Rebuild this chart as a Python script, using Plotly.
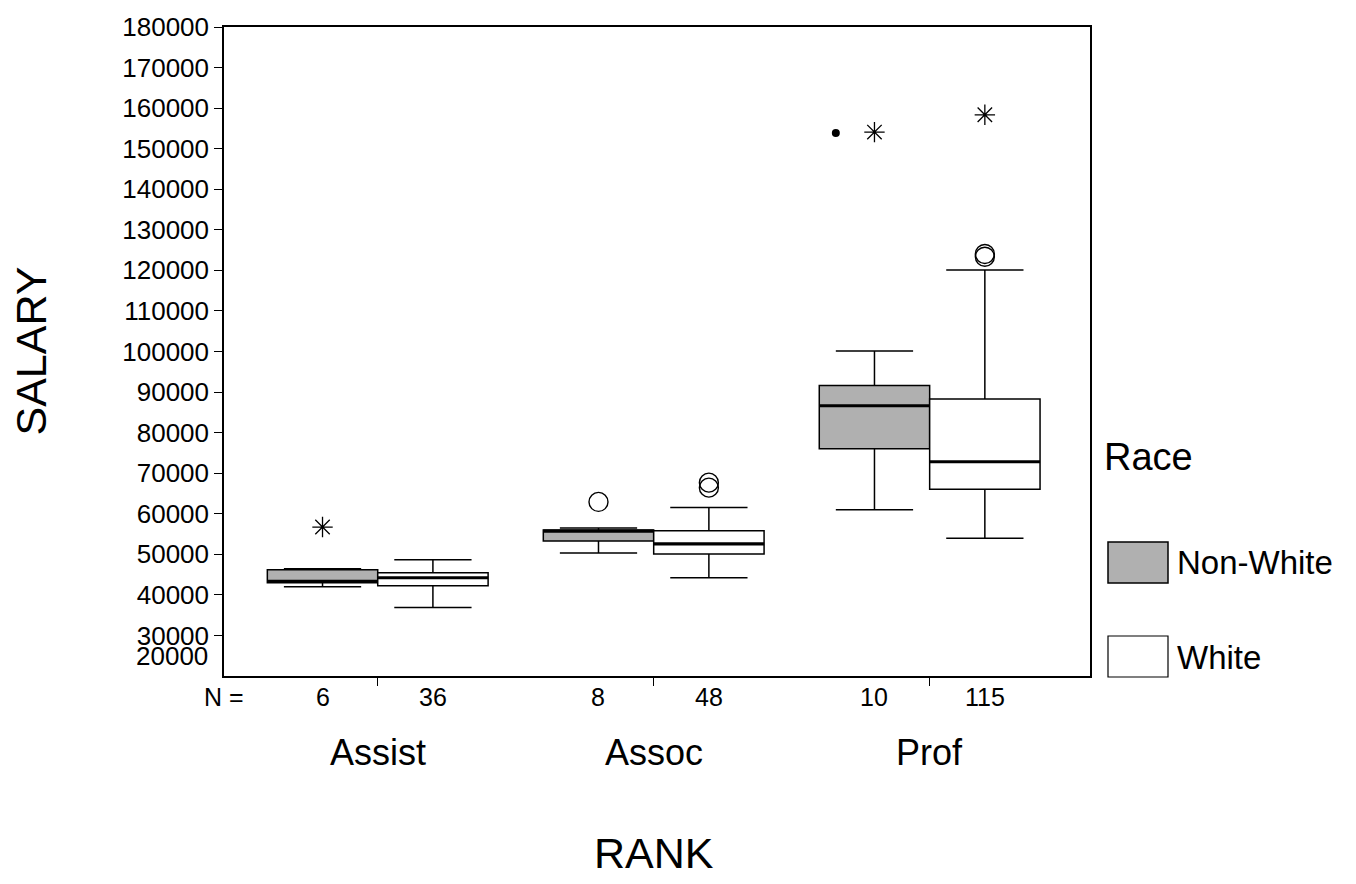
import plotly.graph_objects as go

# Faculty salary by rank, split by race
ranks = ["Assist", "Assoc", "Prof"]
n_nonwhite = [6, 8, 10]
n_white = [36, 48, 115]

nonwhite_lower = [42010, 50340, 60960]
nonwhite_q1 = [42990, 53280, 76000]
nonwhite_median = [43360, 55730, 86620]
nonwhite_q3 = [46180, 55980, 91590]
nonwhite_upper = [46420, 56470, 100100]

white_lower = [36860, 44220, 53950]
white_q1 = [42250, 50100, 66030]
white_median = [44220, 52550, 72820]
white_q3 = [45440, 55810, 88260]
white_upper = [48630, 61540, 120120]

# outliers (circles) and extremes (asterisks), by rank index
nonwhite_outliers = {1: [62920]}
white_outliers = {1: [67670, 66440], 2: [124040, 123370]}
nonwhite_extremes = {0: [56720], 2: [154090]}
white_extremes = {2: [158360]}
# stray case mark beside the Prof non-white extreme
nonwhite_marks = {2: [153850]}
nonwhite_mark_offset = -0.14

y_ticks = list(range(30000, 180001, 10000))

BOX_W = 0.4
HALF = BOX_W / 2
FONT = "Liberation Sans, Arial, sans-serif"
GRAY = "#b0b0b0"

pos_nw = [i - HALF for i in range(len(ranks))]
pos_w = [i + HALF for i in range(len(ranks))]

fig = go.Figure()


def add_group(pos, lo, q1, med, q3, hi, fill, name):
    fig.add_trace(go.Box(
        x=pos, lowerfence=lo, q1=q1, median=med, q3=q3, upperfence=hi,
        width=BOX_W, whiskerwidth=0.7, fillcolor=fill,
        line=dict(color="black", width=1.5), boxpoints=False,
        name=name, showlegend=False, hoverinfo="skip",
    ))
    # heavier median bars
    mx, my = [], []
    for p, m in zip(pos, med):
        mx += [p - HALF, p + HALF, None]
        my += [m, m, None]
    fig.add_trace(go.Scatter(x=mx, y=my, mode="lines",
                             line=dict(color="black", width=3.2),
                             showlegend=False, hoverinfo="skip"))


def add_points(pos, groups, symbol, size, lw, offset=0.0):
    xs, ys = [], []
    for idx, vals in groups.items():
        for v in vals:
            xs.append(pos[idx] + offset)
            ys.append(v)
    fig.add_trace(go.Scatter(
        x=xs, y=ys, mode="markers", showlegend=False, hoverinfo="skip",
        marker=dict(symbol=symbol, size=size, color="black",
                    line=dict(color="black", width=lw)),
    ))


add_group(pos_nw, nonwhite_lower, nonwhite_q1, nonwhite_median, nonwhite_q3,
          nonwhite_upper, GRAY, "Non-White")
add_group(pos_w, white_lower, white_q1, white_median, white_q3,
          white_upper, "white", "White")

add_points(pos_nw, nonwhite_outliers, "circle-open", 19, 1.4)
add_points(pos_w, white_outliers, "circle-open", 19, 1.4)
add_points(pos_nw, nonwhite_extremes, "asterisk-open", 17, 1.3)
add_points(pos_w, white_extremes, "asterisk-open", 17, 1.3)
add_points(pos_nw, nonwhite_marks, "circle", 8, 0, offset=nonwhite_mark_offset)

annotations = []
# N counts row
annotations.append(dict(text="N =", x=0, xref="paper", y=0, yref="paper",
                        xanchor="center", yanchor="middle", yshift=-21,
                        showarrow=False, font=dict(size=25, family=FONT)))
for p, n in list(zip(pos_nw, n_nonwhite)) + list(zip(pos_w, n_white)):
    annotations.append(dict(text=str(n), x=p, xref="x", y=0, yref="paper",
                            xanchor="center", yanchor="middle", yshift=-21,
                            showarrow=False, font=dict(size=25, family=FONT)))
# rank labels
for i, r in enumerate(ranks):
    annotations.append(dict(text=r, x=i, xref="x", y=0, yref="paper",
                            xanchor="center", yanchor="middle", yshift=-76,
                            showarrow=False, font=dict(size=36, family=FONT)))
# axis titles
annotations.append(dict(text="RANK", x=1, xref="x", y=0, yref="paper",
                        xanchor="center", yanchor="middle", yshift=-177,
                        showarrow=False, font=dict(size=43, family=FONT)))
annotations.append(dict(text="SALARY", x=0, xref="paper", y=0.5, yref="paper",
                        xanchor="center", yanchor="middle", xshift=-194,
                        textangle=-90, showarrow=False,
                        font=dict(size=43, family=FONT)))
# bottom label squeezed under 30000
annotations.append(dict(text="20000", x=0, xref="paper", y=0, yref="paper",
                        xanchor="right", yanchor="middle", xshift=-14, yshift=20,
                        showarrow=False, font=dict(size=26, family=FONT)))
# legend
annotations.append(dict(text="Race", x=1, xref="paper", y=0, yref="paper",
                        xanchor="left", yanchor="middle", xshift=12, yshift=219,
                        showarrow=False, font=dict(size=38, family=FONT)))
annotations.append(dict(text="Non-White", x=1, xref="paper", y=0, yref="paper",
                        xanchor="left", yanchor="middle", xshift=85, yshift=114,
                        showarrow=False, font=dict(size=33, family=FONT)))
annotations.append(dict(text="White", x=1, xref="paper", y=0, yref="paper",
                        xanchor="left", yanchor="middle", xshift=85, yshift=19,
                        showarrow=False, font=dict(size=33, family=FONT)))

shapes = [
    dict(type="rect", xref="paper", yref="paper", xsizemode="pixel", ysizemode="pixel",
         xanchor=1, yanchor=0, x0=18, x1=78, y0=93, y1=134,
         fillcolor=GRAY, line=dict(color="black", width=1.5)),
    dict(type="rect", xref="paper", yref="paper", xsizemode="pixel", ysizemode="pixel",
         xanchor=1, yanchor=0, x0=18, x1=78, y0=-1, y1=40,
         fillcolor="white", line=dict(color="black", width=1.2)),
]

fig.update_layout(
    width=1356, height=884,
    margin=dict(l=224, r=266, t=25, b=208),
    paper_bgcolor="white", plot_bgcolor="white",
    showlegend=False,
    font=dict(family=FONT, color="black"),
    annotations=annotations, shapes=shapes,
    xaxis=dict(range=[-0.557, 2.581], tickvals=[0, 1, 2], ticktext=["", "", ""],
               ticks="outside", ticklen=8, tickcolor="black", showline=True,
               linecolor="black", linewidth=1.5, mirror=True, showgrid=False,
               zeroline=False),
    yaxis=dict(range=[20000, 180000], tickvals=y_ticks,
               ticktext=[str(v) for v in y_ticks], ticks="outside", ticklen=8,
               tickcolor="black", showline=True, linecolor="black", linewidth=1.5,
               mirror=True, showgrid=False, zeroline=False,
               tickfont=dict(size=26, family=FONT)),
)

fig.write_html("out.html")
